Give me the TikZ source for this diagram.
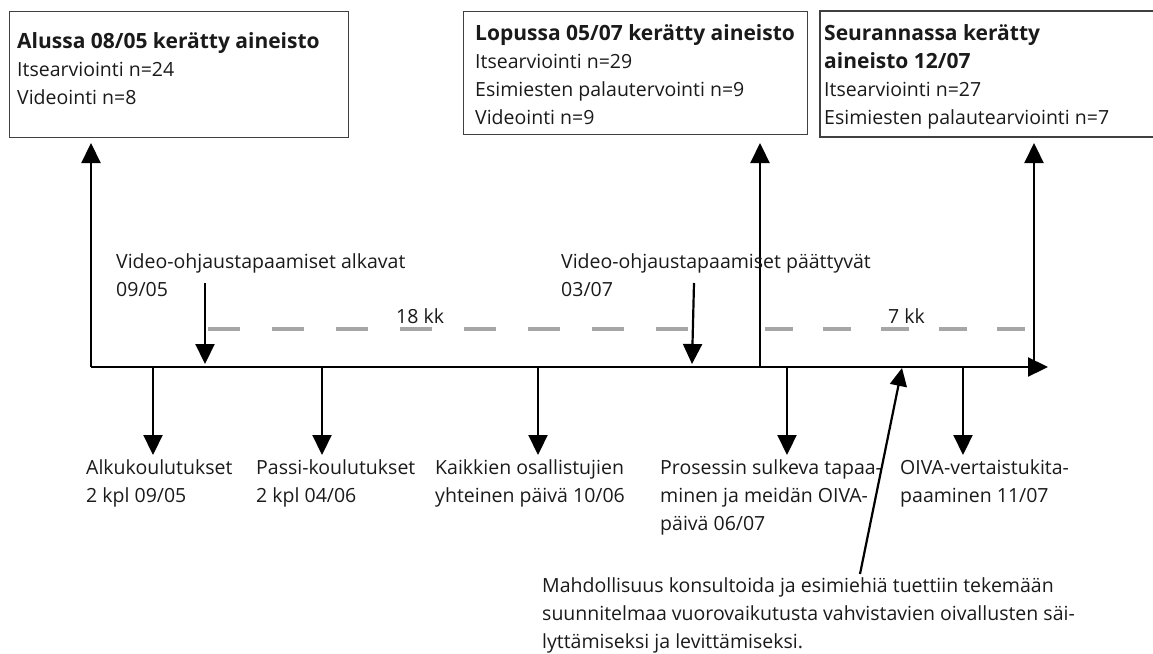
\documentclass[tikz,border=0pt]{standalone}
\usepackage{fontspec}
\setmainfont{Open Sans}
\usetikzlibrary{arrows.meta}
\definecolor{txt}{HTML}{1A1A1A}
\definecolor{boxgray}{HTML}{404040}
\definecolor{dashgray}{HTML}{A6A6A6}
\newcommand\mylines[1]{\begin{tabular}[t]{@{}l@{}}#1\end{tabular}}
\newcommand\hd[1]{{\fontsize{21}{28}\selectfont\bfseries #1}}
\begin{document}
\begin{tikzpicture}[x=1pt,y=-1pt,
  font=\fontsize{19.5}{28}\selectfont,
  lab/.style={anchor=base west, inner sep=0pt, text=txt},
  boxst/.style={draw=boxgray, line width=1.3pt, anchor=north west, inner sep=0pt},
  ln/.style={line width=2.2pt, black},
  arr/.style={ln, -{Triangle[length=20pt,width=19pt]}},
  dashA/.style={draw=dashgray, line width=4.5pt, dash pattern=on 32pt off 32pt},
  dashB/.style={draw=dashgray, line width=4.5pt, dash pattern=on 28pt off 30pt}]
\useasboundingbox (0,0) rectangle (1153,653);
% boxes
\node[boxst, minimum width=339pt, minimum height=126pt] (b1) at (9,11) {};
\node[boxst, minimum width=344pt, minimum height=123pt] (b2) at (463,11) {};
\coordinate (b3tr) at (1153,11);
\coordinate (b3br) at (1153,137);
\coordinate (b3l) at (820,137);
\draw[draw=boxgray, line width=1.3pt] (b3tr) -| (b3l) -- (b3br);
% box texts
\node[lab] (t1) at (17,48) {\mylines{\hd{Alussa 08/05 kerätty aineisto}\\[0.5pt]Itsearviointi n=24\\Videointi n=8}};
\node[lab] (t2) at (475,40) {\mylines{\hd{Lopussa 05/07 kerätty aineisto}\\Itsearviointi n=29\\Esimiesten palautervointi n=9\\Videointi n=9}};
\node[lab] (t3) at (824,40) {\mylines{\hd{Seurannassa kerätty}\\\hd{aineisto 12/07}\\Itsearviointi n=27\\Esimiesten palautearviointi n=7}};
% timeline
\coordinate (t0) at (91,367);
\coordinate (tend) at (1048,367);
\coordinate (m1) at (760,367);
\coordinate (m2) at (1034,367);
\coordinate (u0) at (91,143);
\coordinate (u1) at (760,143);
\coordinate (u2) at (1034,143);
\draw[arr] (t0) -- (tend);
\draw[arr] (t0) -- (u0);
\draw[arr] (m1) -- (u1);
\draw[arr] (m2) -- (u2);
% dashed durations
\coordinate (da1) at (208,329);
\coordinate (da2) at (690,329);
\coordinate (db1) at (765,329);
\coordinate (db2) at (1025,329);
\draw[dashA] (da1) -- (da2);
\draw[dashB] (db1) -- (db2);
\node[lab] (k18) at (396,323) {18 kk};
\node[lab] (k7) at (888,323) {7 kk};
% video guidance
\node[lab] (v1) at (116,268) {\mylines{Video-ohjaustapaamiset alkavat\\09/05}};
\node[lab] (v2) at (561,268) {\mylines{Video-ohjaustapaamiset päättyvät\\03/07}};
\coordinate (va) at (205,283);
\coordinate (vb) at (205,364);
\coordinate (vc) at (694,283);
\coordinate (vd) at (692,364);
\draw[arr] (va) -- (vb);
\draw[arr] (vc) -- (vd);
% down events
\foreach \x/\n in {153/d1,322/d2,538/d3,787/d4,963/d5}{
  \coordinate (\n s) at (\x,367);
  \coordinate (\n e) at (\x,455);
  \draw[arr] (\n s) -- (\n e);
}
\node[lab] (e1) at (86,474) {\mylines{Alkukoulutukset\\2 kpl 09/05}};
\node[lab] (e2) at (256,474) {\mylines{Passi-koulutukset\\2 kpl 04/06}};
\node[lab] (e3) at (435,474) {\mylines{Kaikkien osallistujien\\yhteinen päivä 10/06}};
\node[lab] (e4) at (660,474) {\mylines{Prosessin sulkeva tapaa-\\minen ja meidän OIVA-\\päivä 06/07}};
\node[lab] (e5) at (900,474) {\mylines{OIVA-vertaistukita-\\paaminen 11/07}};
% consultation
\node[lab] (c1) at (542,592) {\mylines{Mahdollisuus konsultoida ja esimiehiä tuettiin tekemään\\suunnitelmaa vuorovaikutusta vahvistavien oivallusten säi-\\lyttämiseksi ja levittämiseksi.}};
\coordinate (cs) at (860,574);
\coordinate (ce) at (902,368);
\draw[ln, -{Triangle[length=18pt,width=17pt]}] (cs) -- (ce);
\end{tikzpicture}
\end{document}
